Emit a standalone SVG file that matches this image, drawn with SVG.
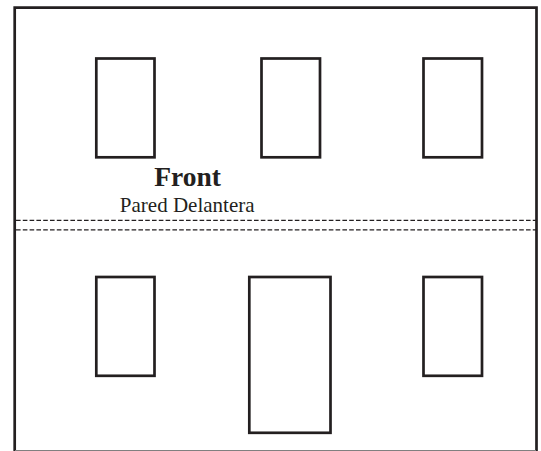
<svg xmlns="http://www.w3.org/2000/svg" width="541" height="451" viewBox="0 0 541 451">
<style>
.w{fill:none;stroke:#231f20;stroke-width:2.7}
.d{fill:none;stroke:#231f20;stroke-width:1.3;stroke-dasharray:4.6 2.2}
text{font-family:"Liberation Serif","Times New Roman",serif;fill:#231f20;text-anchor:middle}
</style>
<rect width="541" height="451" fill="#fff"/>
<g id="wall"><path class="w" d="M14.7 451V7.7H536.5V451"/><path d="M15 450.5H536" stroke="#808080" stroke-width="1" fill="none"/></g>
<g id="connectors"><path class="d" d="M16 220.3H536"/><path class="d" d="M16 229.8H536"/></g>
<g id="window-top-left"><rect class="w" x="96.3" y="58.5" width="58.2" height="98.8"/></g>
<g id="window-top-middle"><rect class="w" x="261.5" y="58.5" width="58.5" height="98.8"/></g>
<g id="window-top-right"><rect class="w" x="423.5" y="58.5" width="58.5" height="98.8"/></g>
<g id="window-bottom-left"><rect class="w" x="96.3" y="277" width="58.2" height="98.8"/></g>
<g id="door"><rect class="w" x="249.3" y="277" width="81.2" height="155.8"/></g>
<g id="window-bottom-right"><rect class="w" x="423.5" y="277" width="58.5" height="98.8"/></g>
<g id="label-front"><text x="187.5" y="186" font-size="27.5" font-weight="700">Front</text></g>
<g id="label-pared"><text x="187.2" y="212" font-size="21">Pared Delantera</text></g>
</svg>
